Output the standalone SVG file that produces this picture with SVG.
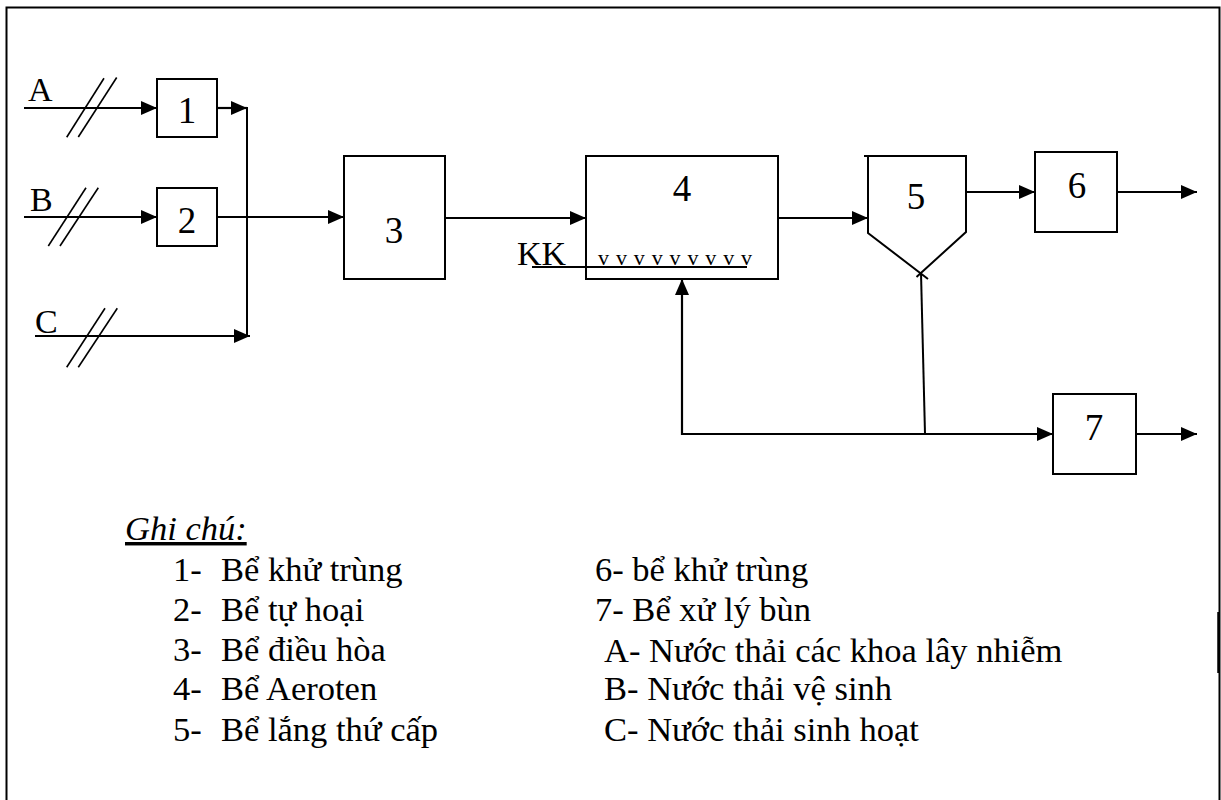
<svg xmlns="http://www.w3.org/2000/svg" width="1221" height="800" viewBox="0 0 1221 800">
<defs>
<marker id="ah" markerWidth="16" markerHeight="14" refX="16" refY="7" orient="auto" markerUnits="userSpaceOnUse">
<path d="M0,0 L16,7 L0,14 Z" fill="#000"/>
</marker>
<style>
.t{font-family:"Liberation Serif","Times New Roman",serif;fill:#000}
.lab{font-size:34px}
.num{font-size:37px;text-anchor:middle}
.leg{font-size:34.5px}
.box{fill:#fff;stroke:#000;stroke-width:2}
.ln{fill:none;stroke:#000;stroke-width:2}
.arr{fill:none;stroke:#000;stroke-width:2.2;marker-end:url(#ah)}
.sl{stroke:#000;stroke-width:1.6}
</style>
</defs>
<rect width="1221" height="800" fill="#fff"/>
<path d="M6.5,800 L6.5,7.5 L1219.5,7.5 L1219.5,800" fill="none" stroke="#000" stroke-width="2"/>
<line x1="1218.5" y1="612" x2="1218.5" y2="673" stroke="#000" stroke-width="2.5"/>

<g id="connectors">
<line class="arr" x1="24" y1="108" x2="157" y2="108"/>
<line class="arr" x1="24" y1="217" x2="157" y2="217"/>
<line class="arr" x1="217" y1="108" x2="247" y2="108"/>
<line class="ln" x1="247" y1="107" x2="247" y2="337"/>
<line class="arr" x1="35" y1="336" x2="250" y2="336"/>
<line class="arr" x1="217" y1="217" x2="344" y2="217"/>
<line class="arr" x1="445" y1="218" x2="586" y2="218"/>
<line class="arr" x1="778" y1="218" x2="868" y2="218"/>
<line class="arr" x1="966" y1="192" x2="1035" y2="192"/>
<line class="arr" x1="1117" y1="192" x2="1197" y2="192"/>
<line class="ln" x1="921" y1="273" x2="925" y2="434"/>
<line class="arr" x1="681" y1="434" x2="1053" y2="434"/>
<line class="arr" x1="682" y1="435" x2="682" y2="279"/>
<line class="arr" x1="1136" y1="434" x2="1197" y2="434"/>
<line class="sl" x1="66.7" y1="137.3" x2="104" y2="78.3"/>
<line class="sl" x1="78.3" y1="137" x2="116.7" y2="77.5"/>
<line class="sl" x1="48.3" y1="246" x2="86" y2="187.7"/>
<line class="sl" x1="60" y1="246" x2="98.3" y2="187.7"/>
<line class="sl" x1="66.7" y1="367.3" x2="105" y2="308.3"/>
<line class="sl" x1="78.3" y1="367.3" x2="117.3" y2="308.3"/>
</g>

<g id="label-A"><text class="t lab" x="28" y="101">A</text></g>
<g id="label-B"><text class="t lab" x="30" y="211">B</text></g>
<g id="label-C"><text class="t lab" x="35" y="333">C</text></g>

<g id="node-1"><rect class="box" x="157" y="79" width="60" height="58"/><text class="t num" x="187" y="123">1</text></g>
<g id="node-2"><rect class="box" x="157" y="188" width="60" height="58"/><text class="t num" x="187" y="233">2</text></g>
<g id="node-3"><rect class="box" x="344" y="156" width="101" height="123"/><text class="t num" x="394" y="243">3</text></g>
<g id="node-4">
<rect class="box" x="586" y="156" width="192" height="123"/>
<text class="t num" x="682" y="201">4</text>
<text class="t" x="598" y="265" font-size="22" textLength="154" lengthAdjust="spacing">v v v v v v v v v</text>
</g>
<g id="label-KK">
<text class="t lab" x="517" y="265">KK</text>
<line x1="532" y1="267" x2="747" y2="267" stroke="#000" stroke-width="1.8"/>
</g>
<g id="node-5">
<path class="ln" d="M864,156 L966,156 L966,232 L916.5,277 M868,156 L868,233 L928,279"/>
<text class="t num" x="916" y="209">5</text>
</g>
<g id="node-6"><rect class="box" x="1035" y="152" width="82" height="80"/><text class="t num" x="1077" y="198">6</text></g>
<g id="node-7"><rect class="box" x="1053" y="394" width="83" height="80"/><text class="t num" x="1094" y="440">7</text></g>

<g id="legend">
<text class="t leg" x="125" y="540" font-style="italic" text-decoration="underline">Ghi chú:</text>
<text class="t leg" x="173" y="581">1-</text><text class="t leg" x="221" y="581">Bể khử trùng</text>
<text class="t leg" x="173" y="621">2-</text><text class="t leg" x="221" y="621">Bể tự hoại</text>
<text class="t leg" x="173" y="661">3-</text><text class="t leg" x="221" y="661">Bể điều hòa</text>
<text class="t leg" x="173" y="700">4-</text><text class="t leg" x="221" y="700">Bể Aeroten</text>
<text class="t leg" x="173" y="741">5-</text><text class="t leg" x="221" y="741">Bể lắng thứ cấp</text>
<text class="t leg" x="595" y="581">6- bể khử trùng</text>
<text class="t leg" x="595" y="621">7- Bể xử lý bùn</text>
<text class="t leg" x="604" y="662">A- Nước thải các khoa lây nhiễm</text>
<text class="t leg" x="604" y="700">B- Nước thải vệ sinh</text>
<text class="t leg" x="604" y="741">C- Nước thải sinh hoạt</text>
</g>
</svg>
